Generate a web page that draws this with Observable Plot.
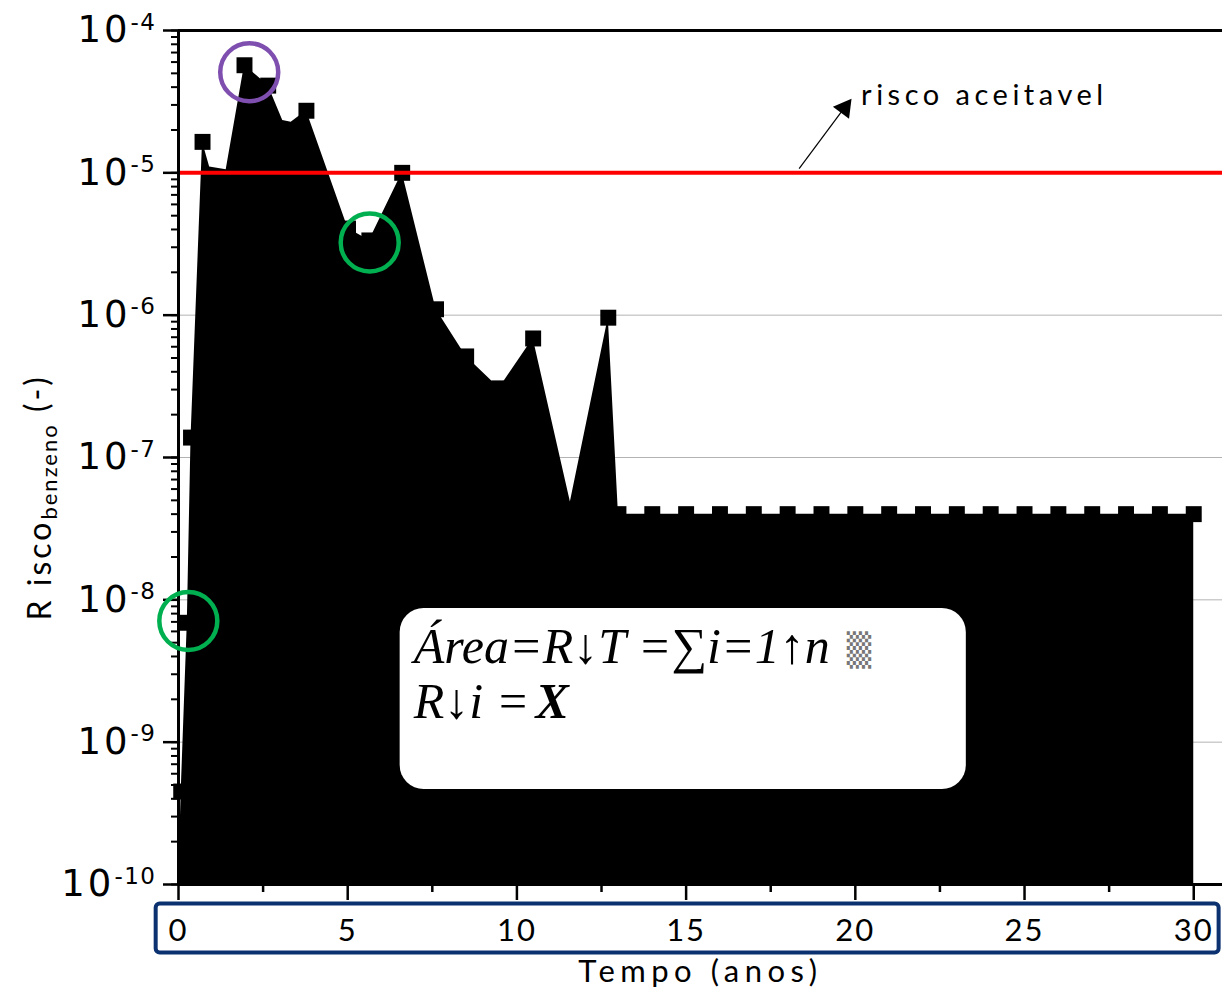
<!DOCTYPE html>
<html><head><meta charset="utf-8">
<script src="https://cdn.jsdelivr.net/npm/d3@7"></script>
<script src="https://cdn.jsdelivr.net/npm/@observablehq/plot@0.6"></script>
<style>
body{margin:0;background:#fff;}
#chart{width:1222px;height:995px;overflow:hidden;}
</style></head><body><div id="chart"></div>
<script>
// Outline of the filled area (time in years, risk)
const areaTime = [0, 0.08, 0.26, 0.37, 0.71, 0.92, 1.41, 1.95, 2.65, 3.08, 3.33, 3.78, 5.01, 5.64, 6.61, 7.61, 8.50, 9.48, 10.48, 11.58, 12.70, 13, 14, 15, 16, 17, 18, 19, 20, 21, 22, 23, 24, 25, 26, 27, 28, 29, 30];
const areaRisk = [1e-10, 4.5e-10, 6.9e-9, 1.38e-7, 1.65e-5, 1.10e-5, 1.05e-5, 5.7e-5, 4.1e-5, 2.33e-5, 2.27e-5, 2.73e-5, 4.06e-6, 3.35e-6, 1.0e-5, 1.1e-6, 5.13e-7, 3.06e-7, 6.86e-7, 4.86e-8, 9.6e-7, 4e-8, 4e-8, 4e-8, 4e-8, 4e-8, 4e-8, 4e-8, 4e-8, 4e-8, 4e-8, 4e-8, 4e-8, 4e-8, 4e-8, 4e-8, 4e-8, 4e-8, 4e-8];
// Square markers
const markerTime = [0.08, 0.26, 0.37, 0.71, 1.95, 2.65, 3.78, 5.01, 5.64, 6.61, 7.61, 8.50, 9.48, 10.48, 12.70, 13, 14, 15, 16, 17, 18, 19, 20, 21, 22, 23, 24, 25, 26, 27, 28, 29, 30];
const markerRisk = [4.5e-10, 6.9e-9, 1.38e-7, 1.65e-5, 5.7e-5, 4.1e-5, 2.73e-5, 4.06e-6, 3.35e-6, 1.0e-5, 1.1e-6, 5.13e-7, 3.06e-7, 6.86e-7, 9.6e-7, 4e-8, 4e-8, 4e-8, 4e-8, 4e-8, 4e-8, 4e-8, 4e-8, 4e-8, 4e-8, 4e-8, 4e-8, 4e-8, 4e-8, 4e-8, 4e-8, 4e-8, 4e-8];
// Acceptable risk limit
const acceptableRisk = [1e-5];
// Highlighted points (circles)
const circleTime = [2.09, 5.65, 0.29];
const circleRisk = [5.09e-5, 3.24e-6, 7.1e-9];
const circleColor = ["#7f4fb0", "#00b050", "#00b050"];
// Axis ticks
const xTicks = [0, 5, 10, 15, 20, 25, 30];
const xMinorTicks = [2.5, 7.5, 12.5, 17.5, 22.5, 27.5];
const yTicks = [1e-10, 1e-9, 1e-8, 1e-7, 1e-6, 1e-5, 1e-4];
const yExponents = ["-10", "-9", "-8", "-7", "-6", "-5", "-4"];
const gridTicks = [1e-9, 1e-8, 1e-7, 1e-6, 1e-5];

const area = areaTime.map((t, i) => ({t, r: areaRisk[i]}));
const markers = markerTime.map((t, i) => ({t, r: markerRisk[i]}));
const circles = circleTime.map((t, i) => ({t, r: circleRisk[i], c: circleColor[i]}));
const yMin = 1e-10, yMax = 1e-4;
const expOf = new Map(yTicks.map((v, i) => [v, yExponents[i]]));

const plot = Plot.plot({
  width: 1222,
  height: 995,
  marginLeft: 178,
  marginRight: 0,
  marginTop: 30,
  marginBottom: 111,
  x: {domain: [0, 30.85]},
  y: {type: "log", domain: [yMin, yMax]},
  style: {background: "white", overflow: "visible"},
  marks: [
    Plot.ruleY(gridTicks, {stroke: "#b3b3b3", strokeWidth: 1}),
    Plot.area(area, {x1: "t", y1: () => yMin, y2: "r", fill: "black", curve: "linear"}),
    Plot.dot(markers, {x: "t", y: "r", symbol: "square", r: 9, fill: "black", stroke: "none"}),
    Plot.ruleY(acceptableRisk, {stroke: "#ff0000", strokeWidth: 4}),
    // frame lines
    Plot.ruleY([yMax], {stroke: "black", strokeWidth: 3}),
    Plot.ruleY([yMin], {stroke: "black", strokeWidth: 3}),
    Plot.ruleX([0], {stroke: "black", strokeWidth: 3}),
    // axes
    Plot.axisY({ticks: 60, tickSize: 7, tickFormat: () => "", strokeWidth: 2, label: null}),
    Plot.axisY({ticks: yTicks, tickSize: 15, strokeWidth: 2.5, label: null,
      tickFormat: d => "10^" + expOf.get(d), tickPadding: 7,
      fontSize: 37, fontFamily: "DejaVu Sans", fill: "black", className: "ylab"}),
    Plot.axisX({ticks: xMinorTicks, tickSize: 8, tickFormat: () => "", strokeWidth: 2.5, label: null}),
    Plot.axisX({ticks: xTicks, tickSize: 16, strokeWidth: 2.5, label: null, tickPadding: 18,
      fontSize: 31, fontFamily: "Lato", fill: "black", className: "xlab"}),
    // blue box around x tick labels
    Plot.rect([0], {x1: () => -0.66, x2: () => 30.75, y1: () => 3.3e-11, y2: () => 7.3e-11,
      fill: "none", stroke: "#0b3170", strokeWidth: 4, rx: 4}),
    // axis titles
    Plot.text(["Tempo (anos)"], {frameAnchor: "bottom", dy: 97, fontSize: 31, fontFamily: "Lato", fill: "black", className: "xtitle"}),
    Plot.text(["R isco|benzeno|(-)"], {frameAnchor: "left", dx: -138, dy: 163, rotate: -90, textAnchor: "start", fontSize: 32, fontFamily: "Lato", fill: "black", className: "ytitle"}),
    // highlighted circles
    Plot.dot(circles, {x: "t", y: "r", r: 29, stroke: "c", strokeWidth: 4.5, fill: "none"}),
    // annotation
    Plot.link([0], {x1: () => 18.34, y1: () => 1.07e-5, x2: () => 19.62, y2: () => 2.75e-5, stroke: "black", strokeWidth: 1.2}),
    Plot.dot([0], {x: () => 19.68, y: () => 2.85e-5, symbol: "triangle", r: 7.5, rotate: 37, fill: "black", stroke: "none"}),
    Plot.text(["risco aceitavel"], {x: () => 20.17, y: () => 3.5e-5, textAnchor: "start", fontSize: 29, fontFamily: "Lato", fill: "black", className: "annot"}),
    // formula box
    Plot.rect([0], {x1: () => 6.55, x2: () => 23.28, y1: () => 4.65e-10, y2: () => 8.69e-9, fill: "white", rx: 24}),
    Plot.text(["Área=R↓T =∑i=1↑n"], {x: () => 6.95, y: () => 4.7e-9, textAnchor: "start", fontSize: 50, fontFamily: "Liberation Serif", fontStyle: "italic", fill: "black", className: "f1"}),
    Plot.text(["▒"], {x: () => 19.75, y: () => 4.4e-9, textAnchor: "start", fontSize: 32, fontFamily: "DejaVu Sans", fill: "#777"}),
    Plot.text(["R↓i ="], {x: () => 6.95, y: () => 1.9e-9, textAnchor: "start", fontSize: 50, fontFamily: "Liberation Serif", fontStyle: "italic", fill: "black"}),
    Plot.text(["X"], {x: () => 10.55, y: () => 1.9e-9, textAnchor: "start", fontSize: 50, fontFamily: "Liberation Serif", fontStyle: "italic", fontWeight: "bold", fill: "black"})
  ]
});

const ns = "http://www.w3.org/2000/svg";
// superscript exponents on y tick labels
plot.querySelectorAll(".ylab text").forEach(t => {
  const s = t.textContent;
  if (!s.includes("^")) return;
  const [base, exp] = s.split("^");
  t.textContent = "";
  const a = document.createElementNS(ns, "tspan"); a.textContent = base; a.setAttribute("letter-spacing", "3");
  const b = document.createElementNS(ns, "tspan"); b.textContent = exp; b.setAttribute("dy", "-0.55em"); b.setAttribute("font-size", "23"); b.setAttribute("letter-spacing", "1.5");
  t.appendChild(a); t.appendChild(b);
});
// subscript on y title
plot.querySelectorAll(".ytitle text").forEach(t => {
  const [main, sub, tail] = t.textContent.split("|");
  t.textContent = "";
  const a = document.createElementNS(ns, "tspan"); a.textContent = main; a.setAttribute("letter-spacing", "3");
  const b = document.createElementNS(ns, "tspan"); b.textContent = sub; b.setAttribute("dy", "0.3em"); b.setAttribute("font-size", "22"); b.setAttribute("letter-spacing", "2");
  const c = document.createElementNS(ns, "tspan"); c.textContent = " " + tail; c.setAttribute("dy", "-0.3em"); c.setAttribute("letter-spacing", "3");
  t.appendChild(a); t.appendChild(b); t.appendChild(c);
});
plot.querySelectorAll(".annot text").forEach(t => t.setAttribute("letter-spacing", "4.5"));
plot.querySelectorAll(".xtitle text").forEach(t => t.setAttribute("letter-spacing", "5.5"));
plot.querySelectorAll(".xlab text").forEach(t => t.setAttribute("letter-spacing", "2"));
document.getElementById("chart").appendChild(plot);
</script>
</body></html>
